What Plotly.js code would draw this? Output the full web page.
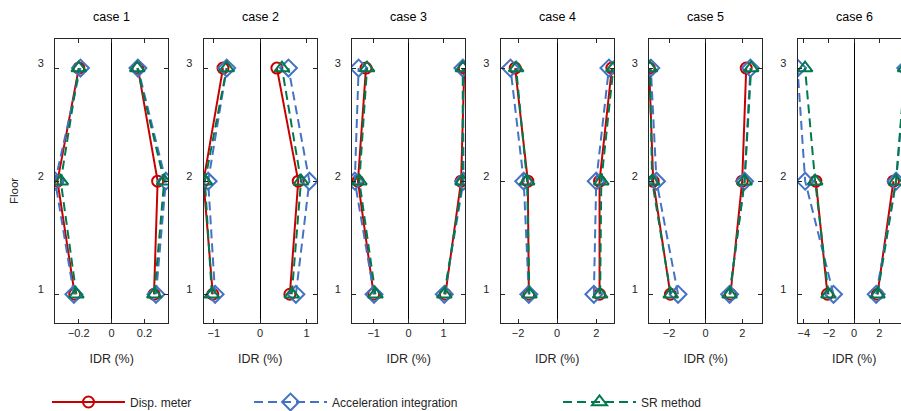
<!DOCTYPE html>
<html><head><meta charset="utf-8">
<script src="https://cdn.plot.ly/plotly-3.0.1.min.js"></script>
<style>html,body{margin:0;padding:0;overflow:hidden;background:#fff}#chart{width:920px;height:411px}</style>
</head><body><div id="chart"></div><script>
// ---- data ----
const floors = [1, 2, 3];
const caseNames = ['case 1', 'case 2', 'case 3', 'case 4', 'case 5', 'case 6'];
const seriesNames = ['Disp. meter', 'Acceleration integration', 'SR method'];
// IDR (%) per case, values at floors 1,2,3 ; negative and positive envelopes
const dispNeg = [[-0.225,-0.33,-0.20],[-1.02,-1.22,-0.80],[-1.00,-1.45,-1.22],[-1.45,-1.50,-2.15],[-1.93,-2.87,-3.09],[-2.12,-3.04,null]];
const dispPos = [[0.258,0.28,0.16],[0.64,0.82,0.36],[1.05,1.50,1.59],[2.17,2.17,2.80],[1.36,2.00,2.22],[1.85,3.12,null]];
const accNeg  = [[-0.23,-0.344,-0.19],[-0.97,-1.12,-0.72],[-0.99,-1.54,-1.43],[-1.45,-1.71,-2.39],[-1.51,-2.69,-3.00],[-1.64,-3.89,-4.50]];
const accPos  = [[0.27,0.33,0.16],[0.77,1.06,0.61],[1.02,1.57,1.55],[1.88,2.00,2.65],[1.31,2.13,2.45],[1.75,3.33,4.10]];
const srNeg   = [[-0.215,-0.31,-0.20],[-1.04,-1.19,-0.72],[-0.95,-1.41,-1.19],[-1.42,-1.54,-2.10],[-1.91,-2.93,-3.05],[-2.04,-3.10,-3.90]];
const srPos   = [[0.26,0.32,0.156],[0.68,0.88,0.47],[1.02,1.54,1.55],[2.20,2.26,2.88],[1.31,2.13,2.49],[1.85,3.33,4.05]];
const xLimits = [0.345, 1.22, 1.62, 2.9, 3.1, 4.5];
const xTickStep = [0.2, 1, 1, 2, 2, 2];

// ---- styles ----
const W = 920, H = 411;
const lefts = [55, 203.5, 352, 500.5, 649, 797.5];
const plotW = 113.3, plotTop = 39, plotBottom = 323;
const styles = [
  {color:'rgb(200,0,0)', dash:'solid', symbol:'circle-open', size:11, legend:'legend'},
  {color:'rgb(68,114,196)', dash:'9px,5px', symbol:'diamond-open', size:13, legend:'legend2'},
  {color:'rgb(0,122,77)', dash:'9px,5px', symbol:'triangle-up-open', size:13, legend:'legend3'}
];
const dataSets = [[dispNeg, dispPos], [accNeg, accPos], [srNeg, srPos]];

const traces = [];
for (let c = 0; c < 6; c++) {
  const ax = c === 0 ? '' : String(c + 1);
  for (let s = 0; s < 3; s++) {
    const neg = dataSets[s][0][c], pos = dataSets[s][1][c];
    const st = styles[s];
    traces.push({
      type: 'scatter', mode: 'lines+markers',
      x: neg.concat([null], pos),
      y: floors.concat([null], floors),
      xaxis: 'x' + ax, yaxis: 'y' + ax,
      name: seriesNames[s],
      legend: st.legend,
      showlegend: c === 0,
      line: {color: st.color, width: 2, dash: st.dash},
      marker: {symbol: st.symbol, size: st.size, color: st.color, line: {width: 2, color: st.color}},
      connectgaps: false, hoverinfo: 'x+y'
    });
  }
}

const legY = 1 - 402 / H;
const layout = {
  width: W, height: H,
  margin: {l: 0, r: 0, t: 0, b: 0, autoexpand: false},
  paper_bgcolor: '#fff', plot_bgcolor: '#fff',
  font: {family: 'Liberation Sans, Arial, sans-serif', color: '#262626', size: 11},
  annotations: [],
  legend:  {orientation:'h', x: 47/W, y: legY, xanchor:'left', yanchor:'middle', itemwidth: 73, font:{size:12}, bgcolor:'rgba(0,0,0,0)'},
  legend2: {orientation:'h', x: 249/W, y: legY, xanchor:'left', yanchor:'middle', itemwidth: 73, font:{size:12}, bgcolor:'rgba(0,0,0,0)'},
  legend3: {orientation:'h', x: 558/W, y: legY, xanchor:'left', yanchor:'middle', itemwidth: 73, font:{size:12}, bgcolor:'rgba(0,0,0,0)'}
};
for (let c = 0; c < 6; c++) {
  const ax = c === 0 ? '' : String(c + 1);
  layout['xaxis' + ax] = {
    domain: [lefts[c] / W, (lefts[c] + plotW) / W],
    anchor: 'y' + ax,
    range: [-xLimits[c], xLimits[c]],
    dtick: xTickStep[c], tick0: 0,
    showgrid: false, zeroline: true, zerolinecolor: '#000', zerolinewidth: 1,
    showline: true, linecolor: '#262626', linewidth: 1, mirror: 'ticks',
    ticks: 'inside', ticklen: 4, tickcolor: '#262626',
    tickfont: {size: 11}, ticklabelstandoff: 0,
    title: {text: 'IDR (%)', font: {size: 12.5}, standoff: 16}
  };
  layout['yaxis' + ax] = {
    domain: [1 - plotBottom / H, 1 - plotTop / H],
    anchor: 'x' + ax,
    range: [0.746, 3.257],
    tickvals: floors, ticktext: floors.map(String),
    showgrid: false, zeroline: false,
    showline: true, linecolor: '#262626', linewidth: 1, mirror: 'ticks',
    ticks: 'inside', ticklen: 4, tickcolor: '#262626',
    tickfont: {size: 11}, ticklabelstandoff: 8, ticklabelshift: -5
  };
  layout.annotations.push({
    text: caseNames[c], xref: 'x' + ax + ' domain', yref: 'paper',
    x: 0.5, y: 1 - 17 / H, xanchor: 'center', yanchor: 'middle',
    showarrow: false, font: {size: 12.5, color: '#000'}
  });
}
layout.annotations.push({
  text: 'Floor', xref: 'paper', yref: 'paper', x: 14 / W, y: 1 - 191 / H,
  xanchor: 'center', yanchor: 'middle', textangle: -90, showarrow: false,
  font: {size: 11.5, color: '#262626'}
});

Plotly.newPlot('chart', traces, layout, {staticPlot: true, displayModeBar: false});
</script></body></html>
